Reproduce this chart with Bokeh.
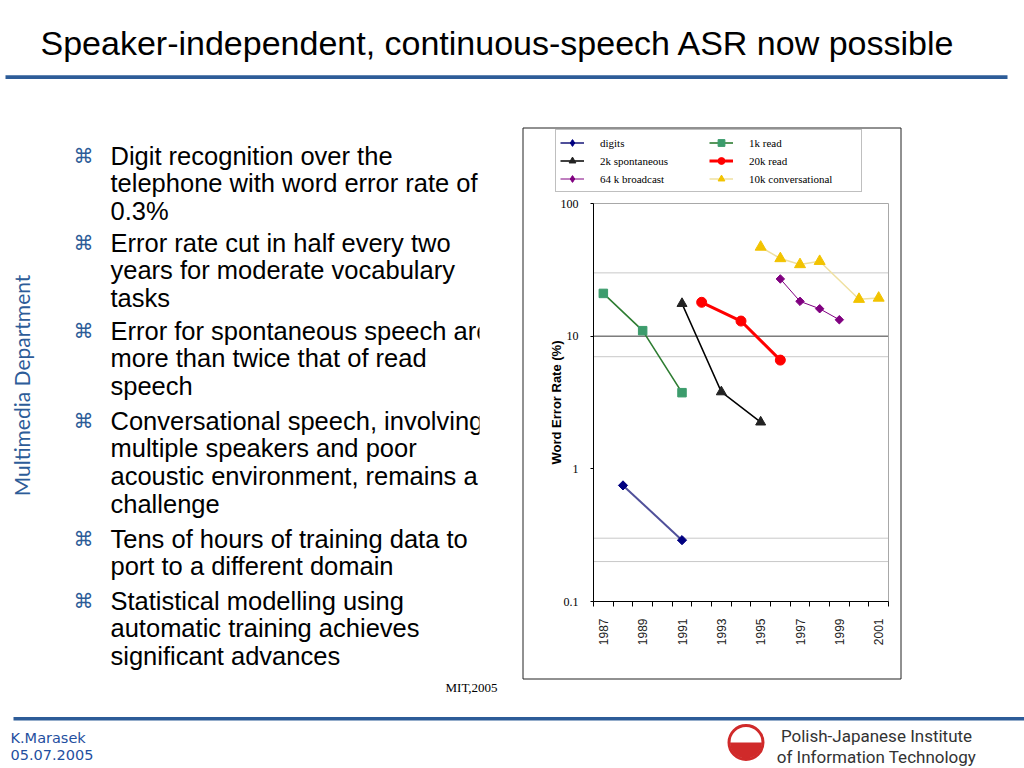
from math import pi, log10
from bokeh.plotting import figure
from bokeh.models import (Range1d, FixedTicker, CustomJSTickFormatter, Legend,
                          LegendItem, Label, BoxAnnotation)
from bokeh.embed import file_html
from bokeh.resources import INLINE
from bokeh.core.properties import value

# ---------------- data ----------------
title_text = "Speaker-independent, continuous-speech ASR now possible"
series_names = ["digits", "1k read", "2k spontaneous", "20k read",
                "64 k broadcast", "10k conversational"]
digits_years = [1988, 1991]
digits_wer = [0.75, 0.29]
read1k_years = [1987, 1989, 1991]
read1k_wer = [21, 11, 3.75]
spont2k_years = [1991, 1993, 1995]
spont2k_wer = [17.6, 3.8, 2.25]
read20k_years = [1992, 1994, 1996]
read20k_wer = [18, 13, 6.6]
bcast64k_years = [1996, 1997, 1998, 1999]
bcast64k_wer = [27, 18.3, 16.1, 13.3]
conv10k_years = [1995, 1996, 1997, 1998, 2000, 2001]
conv10k_wer = [47, 38.5, 34.7, 36.7, 19, 19.4]
category_years = list(range(1987, 2002))
year_labels = [1987, 1989, 1991, 1993, 1995, 1997, 1999, 2001]
y_ticks = [0.1, 1, 10, 100]
ref_lines_light = [30, 7, 0.3, 0.2]
ref_line_dark = [10]
y_label = "Word Error Rate (%)"
source_note = "MIT,2005"

bullets = [
    ["Digit recognition over the", "telephone with word error rate of", "0.3%"],
    ["Error rate cut in half every two", "years for moderate vocabulary", "tasks"],
    ["Error for spontaneous speech are", "more than twice that of read", "speech"],
    ["Conversational speech, involving", "multiple speakers and poor",
     "acoustic environment, remains a", "challenge"],
    ["Tens of hours of training data to", "port to a different domain"],
    ["Statistical modelling using", "automatic training achieves",
     "significant advances"],
]
side_text = "Multimedia Department"
author = "K.Marasek"
date_text = "05.07.2005"
inst_lines = ["Polish-Japanese Institute", "of Information Technology"]

# ---------------- page geometry ----------------
W, H = 1024, 768
PLOT_L, PLOT_R, PLOT_T, PLOT_B = 593, 888, 203, 601
BLUE = "#2D5C98"

x_lo, x_hi = category_years[0] - 0.5, category_years[-1] + 0.5
y_lo, y_hi = y_ticks[0], y_ticks[-1]
ppx = (PLOT_R - PLOT_L) / (x_hi - x_lo)
ppd = (PLOT_B - PLOT_T) / (log10(y_hi) - log10(y_lo))
x_range = Range1d(x_lo - PLOT_L / ppx, x_hi + (W - PLOT_R) / ppx)
y_range = Range1d(10 ** (log10(y_lo) - (H - PLOT_B) / ppd),
                  10 ** (log10(y_hi) + PLOT_T / ppd))


def data_x(sx):
    return x_lo + (sx - PLOT_L) / ppx


def data_y(sy):
    return 10 ** (log10(y_lo) + (PLOT_B - sy) / ppd)


p = figure(width=W, height=H, x_range=x_range, y_range=y_range,
           y_axis_type="log", toolbar_location=None, output_backend="svg",
           min_border=0)
p.xgrid.visible = False
p.ygrid.visible = False
p.outline_line_color = None
p.background_fill_color = "white"
p.border_fill_color = "white"


def label(sx, sy, text, font, size, color="black", align="left",
          base=True, angle=0.0, style="normal"):
    # sy is the text baseline when base=True, else its vertical middle
    y_mid = sy - 0.35 * size if base else sy
    p.add_layout(Label(x=sx, y=H - y_mid, x_units="screen", y_units="screen",
                       text=text, text_font=font, text_font_size=f"{size}px",
                       text_color=color, text_align=align,
                       text_baseline="middle", angle=angle,
                       text_font_style=style))


def box(l, r, t, b, fill=None, line=None, lw=1):
    p.add_layout(BoxAnnotation(left=l, right=r, top=H - t, bottom=H - b,
                               left_units="screen", right_units="screen",
                               top_units="screen", bottom_units="screen",
                               fill_color=fill if fill else "white",
                               fill_alpha=1 if fill else 0,
                               line_color=line, line_width=lw,
                               line_alpha=1 if line else 0))


# ---------------- chart (plot area) ----------------
for v in ref_lines_light:
    p.segment(x0=[x_lo], y0=[v], x1=[x_hi], y1=[v], line_color="#C8C8C8",
              line_width=1)
for v in ref_line_dark:
    p.segment(x0=[x_lo], y0=[v], x1=[x_hi], y1=[v], line_color="#3A3A3A",
              line_width=1)
p.segment(x0=[x_lo, x_hi], y0=[y_hi, y_lo], x1=[x_hi, x_hi], y1=[y_hi, y_hi],
          line_color="#A8A8A8", line_width=1)

series = [
    (series_names[0], digits_years, digits_wer,
     dict(line_color="#50509A", line_width=2),
     dict(marker="square", angle=pi / 4, size=6.5, fill_color="#000080",
          line_color="#000080"), "diamond", 9),
    (series_names[1], read1k_years, read1k_wer,
     dict(line_color="#2E7D32", line_width=1.6),
     dict(marker="square", size=8.5, fill_color="#3C9C6C", line_color="#3C9C6C"),
     None, 0),
    (series_names[2], spont2k_years, spont2k_wer,
     dict(line_color="black", line_width=1.5),
     dict(marker="triangle", size=10, fill_color="#222222", line_color="#222222"),
     None, 0),
    (series_names[3], read20k_years, read20k_wer,
     dict(line_color="#FF0000", line_width=3),
     dict(marker="circle", size=10, fill_color="#FF0000", line_color="#FF0000"),
     None, 0),
    (series_names[4], bcast64k_years, bcast64k_wer,
     dict(line_color="#800080", line_width=1),
     dict(marker="square", angle=pi / 4, size=6, fill_color="#800080",
          line_color="#800080"), "diamond", 9),
    (series_names[5], conv10k_years, conv10k_wer,
     dict(line_color="#EFE0A0", line_width=1.5),
     dict(marker="triangle", size=11, fill_color="#F2C300", line_color="#F2C300"),
     None, 0),
]
items = []
for name, xs, ys, ls, ms, leg_marker, leg_size in series:
    lr = p.line(xs, ys, **ls)
    sr = p.scatter(xs, ys, **ms)
    if leg_marker:
        # legend-only sample of the diamond marker (NaN point: never drawn in plot)
        gr = p.scatter(x=[float("nan")], y=[float("nan")], marker=leg_marker,
                       size=leg_size, fill_color=ms["fill_color"],
                       line_color=ms["line_color"])
        items.append(LegendItem(label=value(name), renderers=[lr, gr]))
    else:
        items.append(LegendItem(label=value(name), renderers=[lr, sr]))

leg = Legend(items=items, location=(555, H - 192), orientation="horizontal",
             ncols=2, glyph_width=24, glyph_height=17, label_height=17,
             label_width=108, label_standoff=16, padding=4, spacing=1, margin=0,
             border_line_color="#7F7F7F", border_line_width=1,
             background_fill_color="white", background_fill_alpha=1,
             label_text_font="Liberation Serif", label_text_font_size="11px",
             label_text_color="black")
p.add_layout(leg)

xa = p.xaxis[0]
xa.fixed_location = y_lo
xa.bounds = (x_lo, x_hi)
xa.ticker = FixedTicker(ticks=year_labels,
                        minor_ticks=[y - 0.5 for y in category_years + [category_years[-1] + 1]])
xa.major_tick_out = 0
xa.major_tick_in = 0
xa.minor_tick_out = 5
xa.minor_tick_in = 0
xa.minor_tick_line_color = "black"
xa.axis_line_color = "black"
xa.major_label_orientation = pi / 2
xa.major_label_standoff = 12
xa.major_label_text_font = "Liberation Sans"
xa.major_label_text_font_size = "12px"
xa.major_label_text_color = "#222222"

ya = p.yaxis[0]
ya.fixed_location = x_lo
ya.bounds = (y_lo, y_hi)
ya.ticker = FixedTicker(ticks=y_ticks, minor_ticks=[])
ya.formatter = CustomJSTickFormatter(
    code="return tick >= 1 ? tick.toFixed(0) : tick.toString();")
ya.major_tick_out = 3
ya.major_tick_in = 0
ya.minor_tick_out = 0
ya.minor_tick_in = 0
ya.axis_line_color = "black"
ya.major_label_standoff = 12
ya.major_label_text_font = "Liberation Serif"
ya.major_label_text_font_size = "12px"
ya.major_label_text_color = "black"
ya.axis_label = y_label
ya.axis_label_standoff = -6
ya.axis_label_text_font = "Liberation Sans"
ya.axis_label_text_font_size = "13px"
ya.axis_label_text_font_style = "bold"
ya.axis_label_text_color = "black"

# ---------------- slide decoration ----------------
label(40, 54, title_text, "Liberation Sans", 34)
box(5, 1007, 74.8, 78.4, fill=BLUE)

first_baselines = [164, 251, 339, 429, 547, 609]
step = 27.8
for b, lines in enumerate(bullets):
    label(83, first_baselines[b] - 9, "\u2318", "DejaVu Sans", 20,
          color=BLUE, align="center", base=False)
    for i, t in enumerate(lines):
        label(110, first_baselines[b] + i * step, t, "Liberation Sans", 25.5)
box(479, 521, 130, 676, fill="white")
label(21, 385, side_text, "Lato", 21, color=BLUE, align="center",
      base=False, angle=pi / 2)

# chart area border
box(522.5, 900.5, 127.5, 678.5, line="#222222")
label(445, 692, source_note, "Liberation Serif", 13)

# footer
box(13, 1024, 716.5, 720, fill=BLUE)
label(10, 743, author, "DejaVu Sans", 14.5, color="#1F4FA0")
label(10, 760, date_text, "DejaVu Sans", 14.5, color="#1F4FA0")
logo_x, logo_y = data_x(745.5), data_y(742)
p.wedge(x=[logo_x], y=[logo_y], radius=16, radius_units="screen",
        start_angle=pi, end_angle=2 * pi, fill_color="#D02A2A", line_color=None)
p.scatter(x=[logo_x], y=[logo_y], marker="circle", size=34, fill_color=None,
          line_color="#D02A2A", line_width=3)
label(876, 741, inst_lines[0], "Roboto", 17, color="#333333", align="center")
label(876, 762, inst_lines[1], "Roboto", 17, color="#333333", align="center")

open("out.html", "w").write(file_html(p, INLINE))
